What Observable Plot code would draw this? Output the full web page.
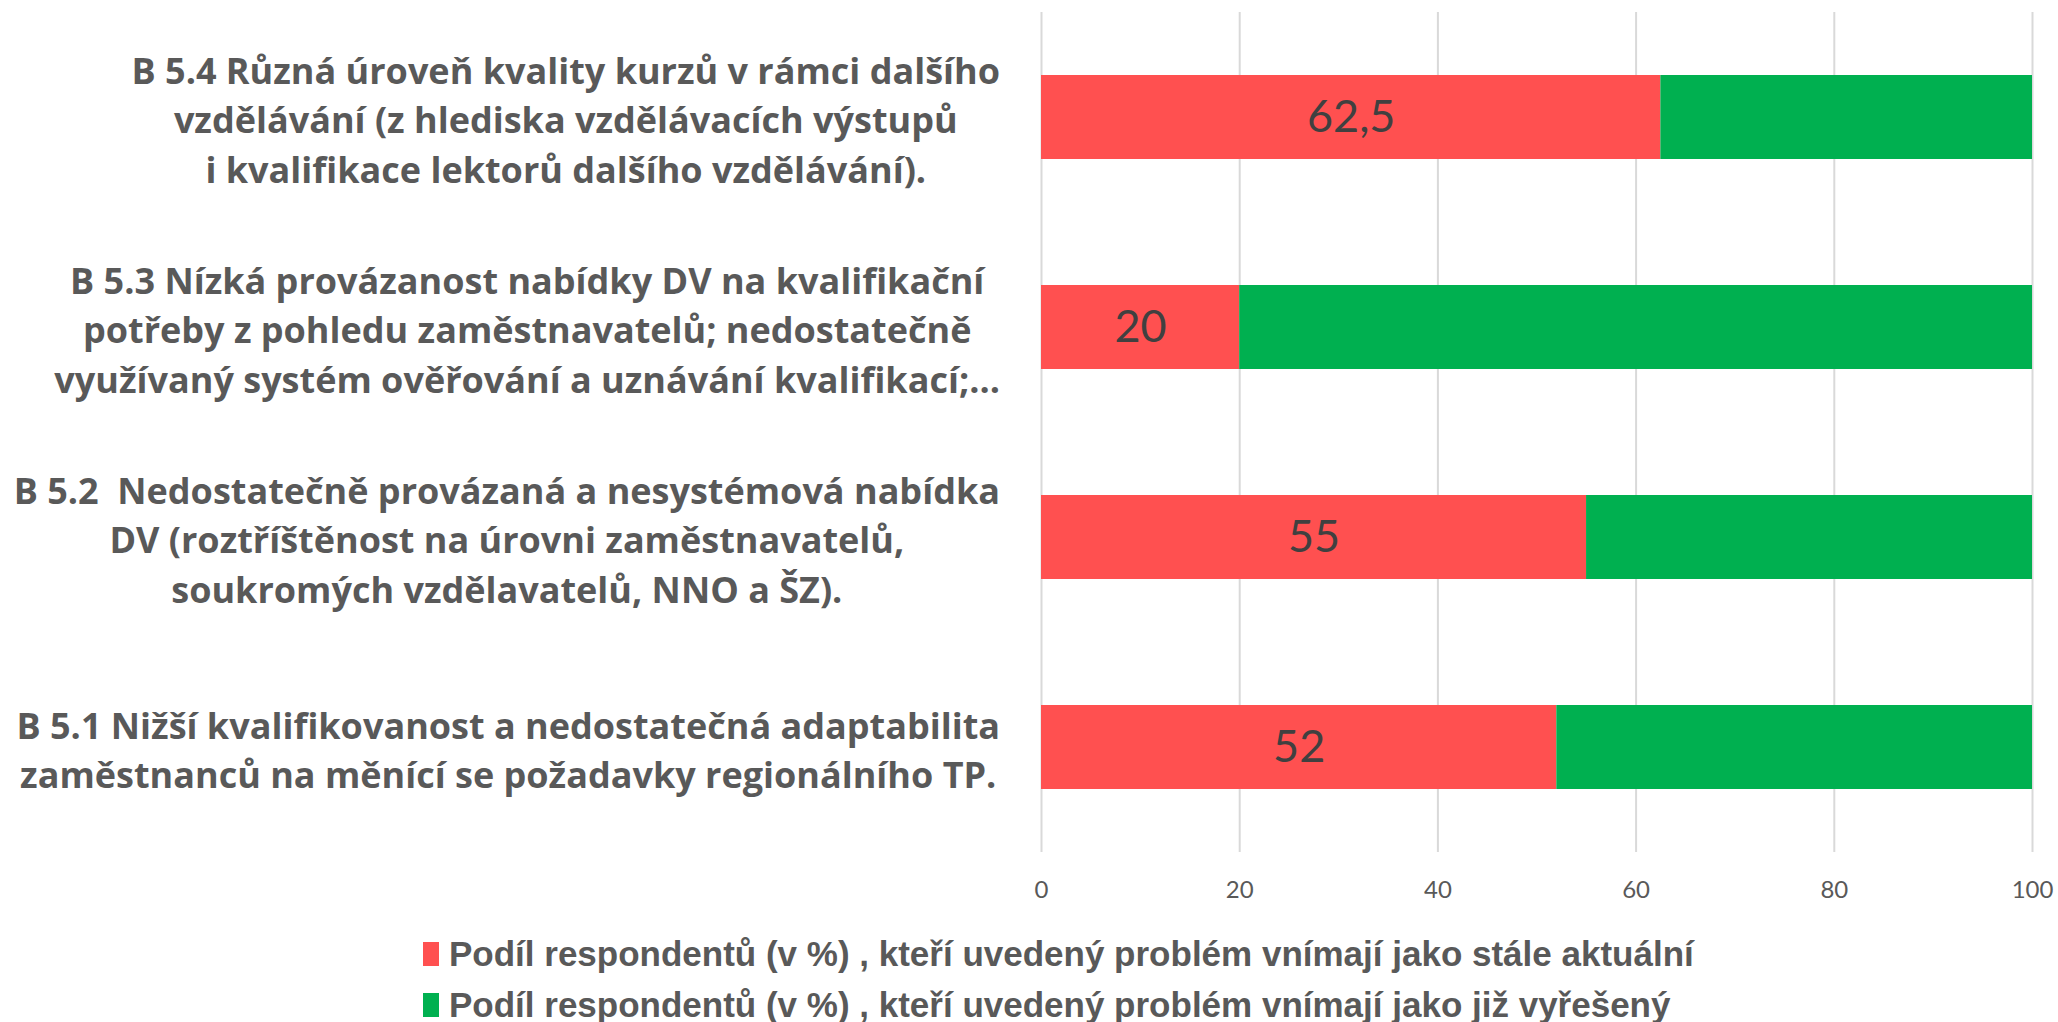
<!DOCTYPE html>
<html>
<head>
<meta charset="utf-8">
<script src="https://cdn.jsdelivr.net/npm/d3@7"></script>
<script src="https://cdn.jsdelivr.net/npm/@observablehq/plot@0.6"></script>
<style>
  html, body { margin: 0; padding: 0; background: #fff; }
  #chart svg { display: block; }
  #legend { padding-top: 8px; margin-left: 423px; font-family: "Liberation Sans", Arial, sans-serif; font-weight: bold; font-size: 35px; color: #595959; }
  .li { height: 51px; line-height: 51px; white-space: nowrap; display: flex; align-items: center; }
  .sw { width: 16px; height: 24px; margin-right: 10px; flex: none; }
  .lt { display: inline-block; }
</style>
</head>
<body>
<div id="chart"></div>
<div id="legend"></div>
<script>
const categories = [
  "B 5.4 Různá úroveň kvality kurzů v rámci dalšího\nvzdělávání (z hlediska vzdělávacích výstupů\ni kvalifikace lektorů dalšího vzdělávání).",
  "B 5.3 Nízká provázanost nabídky DV na kvalifikační\npotřeby z pohledu zaměstnavatelů; nedostatečně\nvyužívaný systém ověřování a uznávání kvalifikací;...",
  "B 5.2  Nedostatečně provázaná a nesystémová nabídka\nDV (roztříštěnost na úrovni zaměstnavatelů,\nsoukromých vzdělavatelů, NNO a ŠZ).",
  "B 5.1 Nižší kvalifikovanost a nedostatečná adaptabilita\nzaměstnanců na měnící se požadavky regionálního TP."
];
const stillCurrent = [62.5, 20, 55, 52];
const solved = [37.5, 80, 45, 48];
const seriesNames = [
  "Podíl respondentů (v %) , kteří uvedený problém vnímají jako stále aktuální",
  "Podíl respondentů (v %) , kteří uvedený problém vnímají jako již vyřešený"
];
const seriesColors = ["#FF5050", "#00B050"];
const xTicks = [0, 20, 40, 60, 80, 100];

const rows = [];
categories.forEach((c, i) => {
  rows.push({cat: c, series: seriesNames[0], value: stillCurrent[i]});
  rows.push({cat: c, series: seriesNames[1], value: solved[i]});
});
const redRows = rows.filter(d => d.series === seriesNames[0]);
const fmt = v => String(v).replace(".", ",");

const plot = Plot.plot({
  width: 2058,
  height: 920,
  marginLeft: 1041,
  marginRight: 26,
  marginTop: 12,
  marginBottom: 68,
  style: {background: "#fff"},
  x: {domain: [0, 100], ticks: xTicks, label: null},
  y: {domain: categories, paddingInner: 0.6, paddingOuter: 0.3, axis: null},
  color: {domain: seriesNames, range: seriesColors},
  marks: [
    Plot.gridX(xTicks, {stroke: "#d9d9d9", strokeOpacity: 1, strokeWidth: 2}),
    Plot.axisX(xTicks, {tickSize: 0, tickPadding: 28, fontSize: 24, fill: "#595959", fontFamily: "Lato, sans-serif", label: null}),
    Plot.barX(rows, Plot.stackX({x: "value", y: "cat", fill: "series", order: seriesNames})),
    Plot.text(redRows, Plot.stackX({x: "value", y: "cat", text: d => fmt(d.value), fill: "#404040", fontSize: 45, fontFamily: "Lato, sans-serif"})),
    Plot.text(categories, {y: d => d, text: d => d, frameAnchor: "left", textAnchor: "middle", dx: -480, fontSize: 36, fontWeight: "bold", fill: "#595959", fontFamily: "'Open Sans', sans-serif", lineHeight: 1.38, className: "ylab"})
  ]
});
document.getElementById("chart").appendChild(plot);

// right-align each centered label block so its widest line ends just left of the plot
const rightEdge = 1000;
const svgLeft = plot.getBoundingClientRect().left;
plot.querySelectorAll("g.ylab text").forEach(t => {
  const r = t.getBoundingClientRect();
  const shift = rightEdge - (r.right - svgLeft);
  const tr = t.getAttribute("transform") || "";
  t.setAttribute("transform", `translate(${shift},0) ` + tr);
});

const legend = document.getElementById("legend");
seriesNames.forEach((n, i) => {
  const div = document.createElement("div");
  div.className = "li";
  div.innerHTML = `<span class="sw" style="background:${seriesColors[i]}"></span><span class="lt"></span>`;
  div.querySelector(".lt").textContent = n;
  legend.appendChild(div);
});
</script>
</body>
</html>
